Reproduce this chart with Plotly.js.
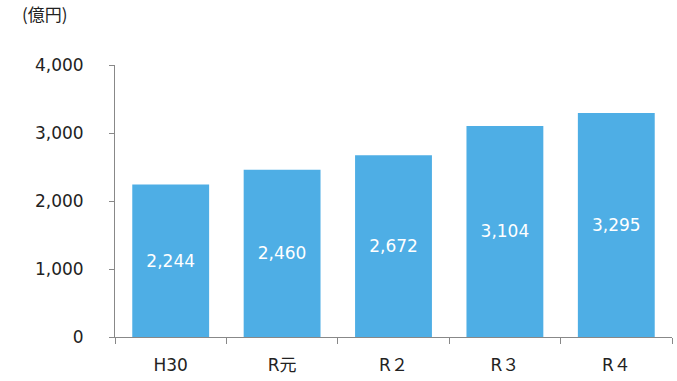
<!DOCTYPE html>
<html><head><meta charset="utf-8">
<script src="https://cdn.plot.ly/plotly-3.0.1.min.js"></script>
<style>body{margin:0;background:#fff}#c{width:677px;height:381px}</style>
</head><body><div id="c"></div>
<script>
const categories = ["H30", "R元", "R２", "R３", "R４"];
const values = [2244, 2460, 2672, 3104, 3295];
const unitLabel = "(億円)";

const font = "DejaVu Sans";
Plotly.newPlot("c", [{
  type: "bar",
  x: categories,
  y: values,
  marker: {color: "#4EAEE5"},
  texttemplate: "%{y:,}",
  textposition: "inside",
  insidetextanchor: "middle",
  textfont: {color: "#ffffff", size: 17, family: font},
  hoverinfo: "none"
}], {
  width: 677, height: 381,
  margin: {l: 115, r: 5, t: 65, b: 44},
  paper_bgcolor: "#fff", plot_bgcolor: "#fff",
  bargap: 0.31,
  showlegend: false,
  font: {family: font, color: "#222", size: 17},
  xaxis: {
    type: "category",
    showline: true, linecolor: "#888", linewidth: 1,
    ticks: "outside", tickson: "boundaries", ticklen: 6, tickcolor: "#888",
    tickfont: {size: 17, family: "DejaVu Sans, Noto Sans CJK JP"},
    showgrid: false, zeroline: false,
    ticklabelstandoff: 13
  },
  yaxis: {
    range: [0, 4000], dtick: 1000, tickformat: ",",
    showline: true, linecolor: "#888", linewidth: 1,
    ticks: "outside", ticklen: 5, tickcolor: "#888",
    tickfont: {size: 17, family: font},
    showgrid: false, zeroline: false,
    ticklabelstandoff: 22
  },
  annotations: [{
    text: unitLabel, xref: "paper", yref: "paper",
    x: -0.17, y: 1.19, xanchor: "left", yanchor: "middle",
    showarrow: false, font: {size: 17, family: "Noto Sans CJK JP", color: "#222"}
  }]
}, {staticPlot: true});
</script></body></html>
